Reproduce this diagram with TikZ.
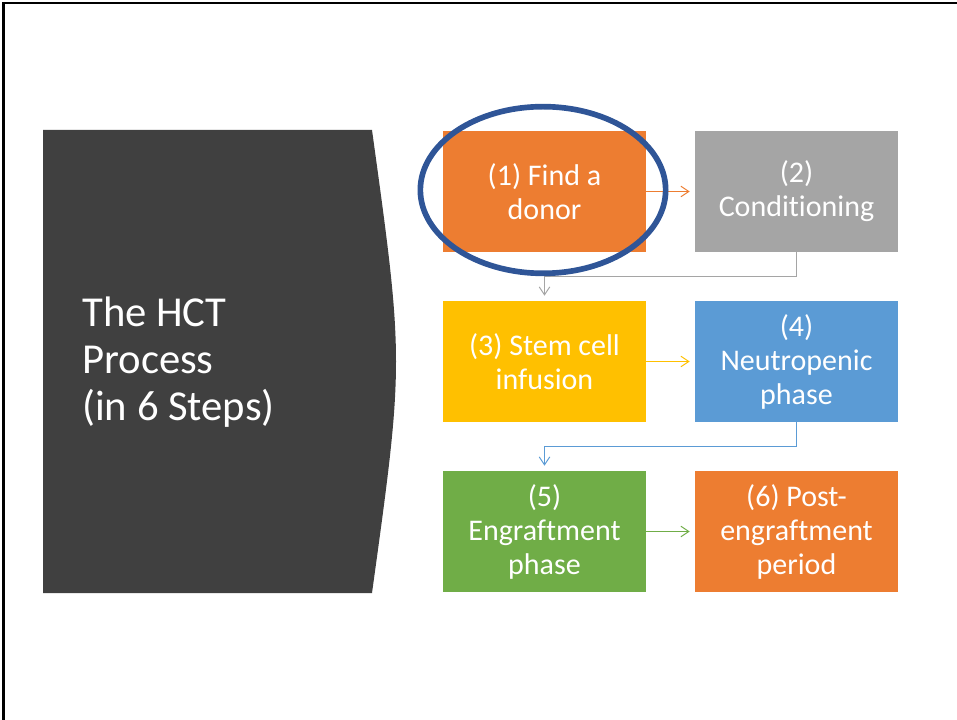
\documentclass[tikz,border=0pt]{standalone}
\usepackage{fontspec}
\setmainfont{Carlito}[Ligatures=NoCommon]
\usetikzlibrary{arrows.meta}
\definecolor{hctdark}{HTML}{404040}
\definecolor{hctorange}{HTML}{ED7D31}
\definecolor{hctgray}{HTML}{A5A5A5}
\definecolor{hctyellow}{HTML}{FFC000}
\definecolor{hctblue}{HTML}{5B9BD5}
\definecolor{hctgreen}{HTML}{70AD47}
\definecolor{hctring}{HTML}{2F5597}
\begin{document}
\begin{tikzpicture}[x=0.75pt,y=-0.75pt,
    stepbox/.style={minimum width=152.25pt,minimum height=90.75pt,inner sep=0pt,
      text=white,align=center,font=\fontsize{22.5}{25.5}\selectfont},
    flow/.style={-{Straight Barb[length=6pt,width=8pt]},line width=0.75pt,shorten >=3.75pt}]
    \tikzstyle{ring}=[draw=hctring,line width=4.25pt]

    \useasboundingbox (0,0) rectangle (957,720);
    \draw[line width=2pt] (3.5,720) -- (3.5,3) -- (957,3);

    % title panel
    \fill[hctdark] (43,130) -- (372,130) .. controls (404,361.5) .. (372,593) -- (43,593) -- cycle;
    \node[anchor=west,text=white,align=left,inner sep=0pt,
      font=\fontsize{32}{35}\selectfont] (title) at (82,362) {The HCT\\Process\\(in 6 Steps)};

    % the six steps
    \node[stepbox,fill=hctorange] (find) at (544.5,191.5) {(1) Find a\\donor};
    \node[stepbox,fill=hctgray] (cond) at (796.5,191.5) {(2)\\Conditioning};
    \node[stepbox,fill=hctyellow] (stem) at (544.5,361.5) {(3) Stem cell\\infusion};
    \node[stepbox,fill=hctblue] (neut) at (796.5,361.5) {(4)\\Neutropenic\\phase};
    \node[stepbox,fill=hctgreen] (engr) at (544.5,531.5) {(5)\\Engraftment\\phase};
    \node[stepbox,fill=hctorange] (post) at (796.5,531.5) {(6) Post-\\engraftment\\period};

    \draw[flow,hctorange] (find.east) -- (post.west |- find.east);
    \draw[flow,hctgray] (cond.south) -- ++(0,24) -| (stem.north);
    \draw[flow,hctyellow] (stem.east) -- (neut.west);
    \draw[flow,hctblue] (neut.south) -- ++(0,24) -| (engr.north);
    \draw[flow,hctgreen] (engr.east) -- (post.west);

    \draw[ring] (find.center) ++(-1.5,-1.5) ellipse [x radius=92pt,y radius=62.5pt];

\end{tikzpicture}
\end{document}
